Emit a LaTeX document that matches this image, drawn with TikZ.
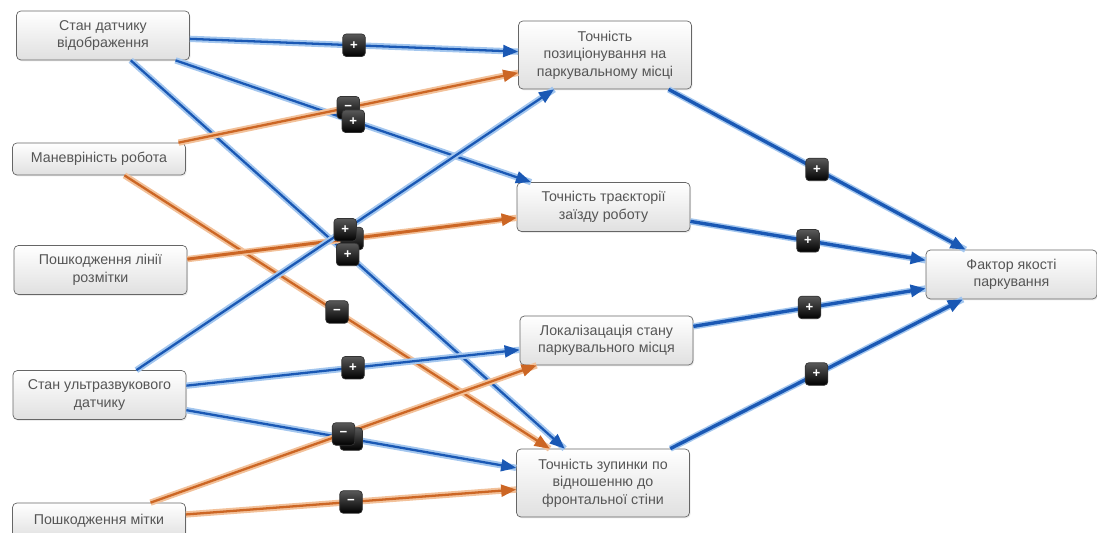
\documentclass[tikz,border=0pt]{standalone}
\usepackage{fontspec}
\setmainfont{Liberation Sans}
\usetikzlibrary{arrows.meta}
\usetikzlibrary{shadows}
\definecolor{posblue}{HTML}{1A58B4}
\definecolor{posglow}{HTML}{A3C6EE}
\definecolor{negorange}{HTML}{CC6624}
\definecolor{negglow}{HTML}{F2C19A}
\definecolor{boxgray}{HTML}{E0E0E0}
\definecolor{textgray}{HTML}{555555}

\begin{document}
\begin{tikzpicture}[%
    font=\fontsize{8.1pt}{10pt}\selectfont,
factor/.style={rectangle, rounded corners=2.5pt, align=center, draw=black!60, top color=white, bottom color=boxgray, text=textgray, minimum width=3.46cm, minimum height=0.98cm, inner sep=1pt, drop shadow={opacity=0.15, shadow xshift=0.6pt, shadow yshift=-0.8pt}},
posline/.style={draw=posblue, line width=1.3pt, -{Triangle[length=0.3cm, width=0.24cm]}, preaction={draw=posglow, line width=3.6pt, -}},
negline/.style={draw=negorange, line width=1.3pt, -{Triangle[length=0.3cm, width=0.24cm]}, preaction={draw=negglow, line width=3.6pt, -}},
heavy/.style={line width=1.9pt, preaction={line width=5.2pt}},
sign/.style={rectangle, rounded corners=2pt, top color=black!65, bottom color=black, draw=black!80, text=white, minimum size=0.45cm, inner sep=0pt, font=\bfseries\fontsize{7.5pt}{7.5pt}\selectfont}
]
\useasboundingbox (0,0) rectangle (21.94,-10.66);

% input nodes
\node[factor]      (sensorstate)  at (2.06,-0.71) {Стан датчику\\відображення};
\node[factor, minimum height=0.64cm]      (maneuver)     at (1.98,-3.18) {Маневріність робота};
\node[factor]      (linedamage)   at (2.01,-5.40) {Пошкодження лінії\\розмітки};
\node[factor]      (ultrasonic)   at (1.99,-7.90) {Стан ультразвукового\\датчику};
\node[factor, minimum height=0.72cm]      (markdamage)   at (1.98,-10.42) {Пошкодження мітки};

% middle nodes
\node[factor, minimum height=1.36cm]      (positioning)  at (12.10,-1.10) {Точність\\позиціонування на\\паркувальному місці};
\node[factor]      (trajectory)   at (12.07,-4.14) {Точність траєкторії\\заїзду роботу};
\node[factor]      (localization) at (12.13,-6.81) {Локалізацація стану\\паркувального місця};
\node[factor, minimum height=1.36cm]      (stopping)     at (12.06,-9.66) {Точність зупинки по\\відношенню до\\фронтальної стіни};

% result
\node[factor, minimum width=3.42cm]      (quality)      at (20.23,-5.49) {Фактор якості\\паркування};

% input lines
\draw[posline] (sensorstate) -- (positioning);
\draw[posline] (sensorstate) -- (trajectory);
\draw[posline] (sensorstate) -- (stopping);
\draw[negline] (maneuver) -- (positioning);
\draw[negline] (maneuver) -- (stopping);
\draw[negline, line width=1.7pt, preaction={line width=4.6pt}] (linedamage) -- (trajectory);
\draw[posline] (ultrasonic) -- (positioning);
\draw[posline] (ultrasonic) -- (localization);
\draw[posline] (ultrasonic) -- (stopping);
\draw[negline] (markdamage) -- (localization);
\draw[negline] (markdamage) -- (stopping);

% result lines
\draw[posline, heavy] (positioning) -- (quality);
\draw[posline, heavy] (trajectory) -- (quality);
\draw[posline, heavy] (localization) -- (quality);
\draw[posline, heavy] (stopping) -- (quality);

% signs
\path (sensorstate) -- node[sign] {+} (positioning);
\path (maneuver) -- node[sign] {−} (positioning);
\path (sensorstate) -- node[sign] {+} (trajectory);
\path (linedamage) -- node[sign] {−} (trajectory);
\path (ultrasonic) -- node[sign] {+} (positioning);
\path (sensorstate) -- node[sign] {+} (stopping);
\path (maneuver) -- node[sign] {−} (stopping);
\path (ultrasonic) -- node[sign] {+} (localization);
\path (ultrasonic) -- node[sign] {+} (stopping);
\path (markdamage) -- node[sign] {−} (localization);
\path (markdamage) -- node[sign] {−} (stopping);
\path (positioning) -- node[sign] {+} (quality);
\path (trajectory) -- node[sign] {+} (quality);
\path (localization) -- node[sign] {+} (quality);
\path (stopping) -- node[sign] {+} (quality);

\end{tikzpicture}
\end{document}
